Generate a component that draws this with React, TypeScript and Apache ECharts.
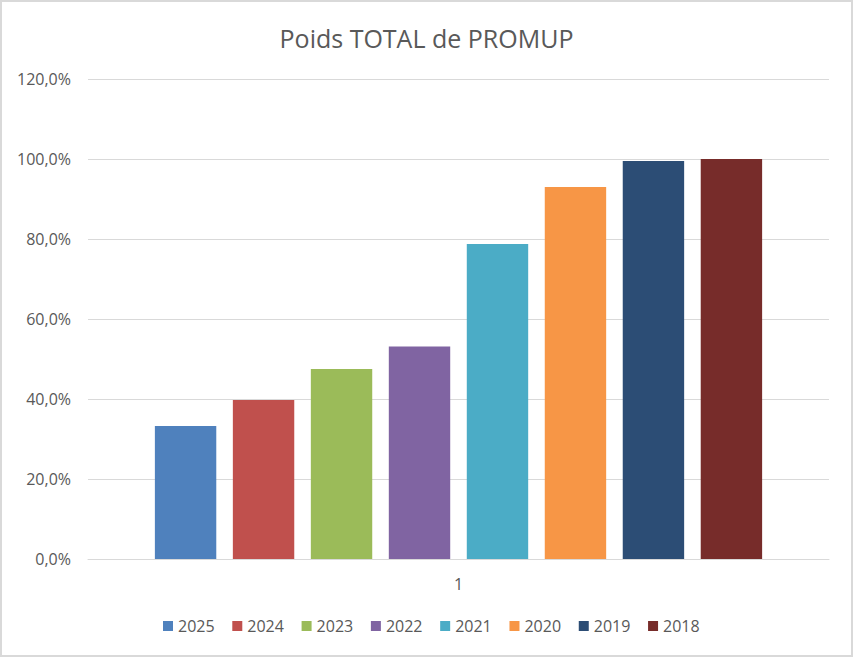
import React, { useEffect, useRef } from "react";
import * as echarts from "echarts";

const categories = ["1"];
const seriesNames = ["2025", "2024", "2023", "2022", "2021", "2020", "2019", "2018"];
const seriesValues = [33.25, 39.75, 47.5, 53.1, 78.75, 93.0, 99.5, 100.0];
const seriesColors = ["#4f81bd", "#c0504d", "#9bbb59", "#8064a2", "#4bacc6", "#f79646", "#2c4d75", "#772c2a"];
const yTicks = { min: 0, max: 120, interval: 20 };
const titleText = "Poids TOTAL de PROMUP";

export default function App() {
  const ref = useRef<HTMLDivElement>(null);
  useEffect(() => {
    document.body.style.margin = "0";
    if (!ref.current) return;
    const chart = echarts.init(ref.current, undefined, { renderer: "svg" });
    const font = "'Open Sans', sans-serif";
    chart.setOption({
      animation: false,
      backgroundColor: "#ffffff",
      title: {
        text: titleText,
        left: "center",
        top: 20,
        textStyle: { color: "#595959", fontFamily: font, fontSize: 25, fontWeight: "normal" },
      },
      grid: { left: 88, right: 24, top: 79, bottom: 98 },
      legend: {
        left: 163,
        top: 618,
        padding: 0,
        itemWidth: 10,
        itemHeight: 10,
        itemGap: 17.7,
        icon: "rect",
        textStyle: { color: "#595959", fontFamily: font, fontSize: 16 },
        data: seriesNames,
      },
      xAxis: {
        type: "category",
        data: categories,
        axisTick: { show: false },
        axisLine: { lineStyle: { color: "#d9d9d9", width: 1 } },
        axisLabel: { color: "#595959", fontFamily: font, fontSize: 16, margin: 17 },
      },
      yAxis: {
        type: "value",
        min: yTicks.min,
        max: yTicks.max,
        interval: yTicks.interval,
        axisLine: { show: false },
        axisTick: { show: false },
        splitLine: { lineStyle: { color: "#d9d9d9", width: 1 } },
        axisLabel: {
          color: "#595959",
          fontFamily: font,
          fontSize: 16,
          margin: 17,
          formatter: (v: number) => v.toFixed(1).replace(".", ",") + "%",
        },
      },
      series: seriesNames.map((name, i) => ({
        name,
        type: "bar",
        data: [seriesValues[i]],
        barWidth: 61.4,
        barGap: "27%",
        itemStyle: { color: seriesColors[i] },
      })),
    });
    return () => chart.dispose();
  }, []);
  return (
    <div style={{ position: "relative", width: 853, height: 657 }}>
      <div ref={ref} style={{ width: 853, height: 657 }} />
      <div
        style={{
          position: "absolute",
          left: 0,
          top: 0,
          width: 853,
          height: 657,
          boxSizing: "border-box",
          border: "2px solid #d9d9d9",
          pointerEvents: "none",
        }}
      />
    </div>
  );
}
